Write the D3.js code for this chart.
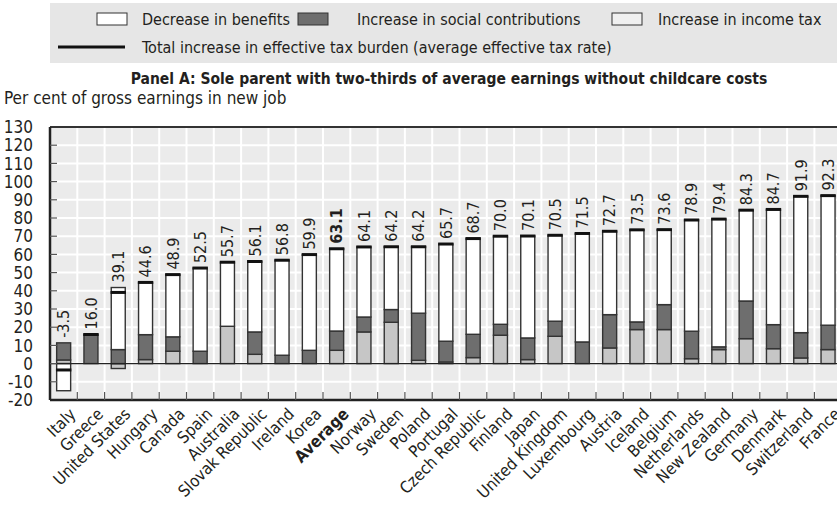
<!DOCTYPE html>
<html>
<head>
<meta charset="utf-8">
<script src="https://cdn.jsdelivr.net/npm/d3@7"></script>
<style>
  body { margin: 0; background: #fff; }
  text { font-family: "DejaVu Sans Condensed", "DejaVu Sans", sans-serif; font-stretch: condensed; fill: #231f20; }
</style>
</head>
<body>
<div id="chart"></div>
<script>
  // values (per cent of gross earnings in new job)
  var countries = ["Italy", "Greece", "United States", "Hungary", "Canada", "Spain", "Australia",
    "Slovak Republic", "Ireland", "Korea", "Average", "Norway", "Sweden", "Poland", "Portugal",
    "Czech Republic", "Finland", "Japan", "United Kingdom", "Luxembourg", "Austria", "Iceland",
    "Belgium", "Netherlands", "New Zealand", "Germany", "Denmark", "Switzerland", "France"];
  var incomeTax = [2.0, 0, -2.7, 2.2, 6.8, 0, 20.5, 5.1, 0, 0, 7.3, 17.4, 22.7, 1.8, 0.9,
    3.3, 15.6, 2.2, 15.0, 0, 8.6, 18.7, 18.7, 2.7, 7.7, 13.7, 8.2, 3.1, 7.7];
  var socialContrib = [9.4, 16.0, 7.7, 13.7, 7.9, 6.8, 0, 12.3, 4.6, 7.3, 10.6, 8.2, 7.0, 25.9, 11.4,
    12.8, 6.0, 11.9, 8.3, 11.9, 18.3, 4.2, 13.7, 15.1, 1.5, 20.7, 13.2, 13.9, 13.4];
  var totals = [-3.5, 16.0, 39.1, 44.6, 48.9, 52.5, 55.7, 56.1, 56.8, 59.9, 63.1, 64.1, 64.2, 64.2, 65.7,
    68.7, 70.0, 70.1, 70.5, 71.5, 72.7, 73.5, 73.6, 78.9, 79.4, 84.3, 84.7, 91.9, 92.3];
  var benefits = [-14.9, 0, 34.1, 28.7, 34.2, 45.7, 35.2, 38.7, 52.2, 52.6, 45.2, 38.5, 34.5, 36.5, 53.4,
    52.6, 48.4, 56.0, 47.2, 59.6, 45.8, 50.6, 41.2, 61.1, 70.2, 49.9, 63.3, 74.9, 71.2];
  var yTicks = [-20, -10, 0, 10, 20, 30, 40, 50, 60, 70, 80, 90, 100, 110, 120, 130];

  var width = 837, height = 506;
  var plotLeft = 50, plotTop = 127, plotBottom = 400;
  var step = 27.3;

  var svg = d3.select("#chart").append("svg")
    .attr("width", width).attr("height", height);

  var rows = countries.map(function (c, i) {
    return { name: c, tax: incomeTax[i], sc: socialContrib[i], ben: benefits[i], total: totals[i] };
  });

  var x = d3.scaleBand().domain(countries).range([plotLeft, plotLeft + step * countries.length]).padding(0);
  var y = d3.scaleLinear().domain([-20, 130]).range([plotBottom, plotTop]);

  var keys = ["tax", "sc", "ben"];
  var colours = { tax: "#c6c6c6", sc: "#6e6e6e", ben: "#ffffff" };
  var series = d3.stack().keys(keys).offset(d3.stackOffsetDiverging)(rows);

  // legend
  var lg = svg.append("g");
  lg.append("rect").attr("x", 50).attr("y", 3).attr("width", 787).attr("height", 60).attr("fill", "#e6e6e6");
  var legendItems = [
    { key: "ben", label: "Decrease in benefits", sx: 97, tx: 142 },
    { key: "sc", label: "Increase in social contributions", sx: 298, tx: 357 },
    { key: "tax", label: "Increase in income tax", sx: 612, tx: 658 }
  ];
  legendItems.forEach(function (d) {
    lg.append("rect").attr("x", d.sx).attr("y", 13).attr("width", 30).attr("height", 12)
      .attr("fill", d.key == "tax" ? "#f0f0f0" : colours[d.key]).attr("stroke", "#333").attr("stroke-width", 1);
    lg.append("text").attr("x", d.tx).attr("y", 25).attr("font-size", "16px").text(d.label);
  });
  lg.append("line").attr("x1", 58).attr("x2", 125).attr("y1", 47).attr("y2", 47)
    .attr("stroke", "#111").attr("stroke-width", 3);
  lg.append("text").attr("x", 142).attr("y", 53).attr("font-size", "16px")
    .text("Total increase in effective tax burden (average effective tax rate)");

  svg.append("text").attr("x", 449).attr("y", 84).attr("text-anchor", "middle")
    .attr("font-size", "15.5px").attr("font-weight", "bold")
    .text("Panel A: Sole parent with two-thirds of average earnings without childcare costs");
  svg.append("text").attr("x", 4).attr("y", 104).attr("font-size", "17px")
    .text("Per cent of gross earnings in new job");

  // plot background and grid
  var g = svg.append("g");
  g.append("rect").attr("x", plotLeft).attr("y", plotTop).attr("width", width - plotLeft).attr("height", plotBottom - plotTop)
    .attr("fill", "#ebebeb");
  g.selectAll(".hg").data(yTicks.filter(function (t) { return t > -20 && t < 130; })).enter()
    .append("line")
    .attr("x1", plotLeft).attr("x2", width)
    .attr("y1", function (d) { return y(d); }).attr("y2", function (d) { return y(d); })
    .attr("stroke", "#fff").attr("stroke-width", 2);
  g.selectAll(".vg").data(countries.slice(1)).enter()
    .append("line")
    .attr("x1", function (d) { return x(d); }).attr("x2", function (d) { return x(d); })
    .attr("y1", plotTop).attr("y2", plotBottom)
    .attr("stroke", "#fff").attr("stroke-width", 2);

  // bars
  var bw = 14;
  series.forEach(function (s) {
    g.selectAll(".b-" + s.key).data(s.filter(function (d) { return d[1] != d[0]; })).enter()
      .append("rect")
      .attr("x", function (d) { return x(d.data.name) + x.bandwidth() / 2 - bw / 2; })
      .attr("y", function (d) { return y(Math.max(d[0], d[1])); })
      .attr("width", bw)
      .attr("height", function (d) { return Math.abs(y(d[0]) - y(d[1])); })
      .attr("fill", colours[s.key])
      .attr("stroke", "#333").attr("stroke-width", 1.4);
  });

  // total line
  g.selectAll(".tot").data(rows).enter()
    .append("line")
    .attr("x1", function (d) { return x(d.name) + x.bandwidth() / 2 - bw / 2 - 0.7; })
    .attr("x2", function (d) { return x(d.name) + x.bandwidth() / 2 + bw / 2 + 0.7; })
    .attr("y1", function (d) { return y(d.total); }).attr("y2", function (d) { return y(d.total); })
    .attr("stroke", "#111").attr("stroke-width", 3);

  // zero line
  g.append("line").attr("x1", plotLeft).attr("x2", width).attr("y1", y(0)).attr("y2", y(0))
    .attr("stroke", "#222").attr("stroke-width", 1.2);

  // value labels
  g.selectAll(".val").data(rows).enter()
    .append("text")
    .attr("transform", function (d) {
      var topv = Math.max(0, d.tax) + Math.max(0, d.sc) + Math.max(0, d.ben);
      return "translate(" + (x(d.name) + x.bandwidth() / 2) + "," + (y(topv) - 5) + ") rotate(-90)";
    })
    .attr("dy", "0.36em")
    .attr("font-size", "16px")
    .attr("font-weight", function (d) { return d.name == "Average" ? "bold" : "normal"; })
    .text(function (d) { return d.total.toFixed(1); });

  // axes frame
  g.append("line").attr("x1", plotLeft).attr("x2", width).attr("y1", plotTop).attr("y2", plotTop)
    .attr("stroke", "#333").attr("stroke-width", 2);
  g.append("line").attr("x1", plotLeft).attr("x2", width).attr("y1", plotBottom).attr("y2", plotBottom)
    .attr("stroke", "#222").attr("stroke-width", 2.5);
  g.append("line").attr("x1", plotLeft).attr("x2", plotLeft).attr("y1", plotTop).attr("y2", plotBottom)
    .attr("stroke", "#222").attr("stroke-width", 2.5);

  // y axis ticks and labels
  g.selectAll(".yt").data(yTicks.filter(function (t) { return t > -20 && t < 130; })).enter()
    .append("line")
    .attr("x1", plotLeft).attr("x2", plotLeft + 7)
    .attr("y1", function (d) { return y(d); }).attr("y2", function (d) { return y(d); })
    .attr("stroke", "#555").attr("stroke-width", 1.2);
  g.selectAll(".yl").data(yTicks).enter()
    .append("text")
    .attr("x", 33).attr("y", function (d) { return y(d); })
    .attr("dy", "0.36em").attr("text-anchor", "end").attr("font-size", "17px")
    .text(function (d) { return d; });

  // x axis ticks and labels
  g.selectAll(".xt").data(countries.slice(1)).enter()
    .append("line")
    .attr("x1", function (d) { return x(d); }).attr("x2", function (d) { return x(d); })
    .attr("y1", plotBottom - 8).attr("y2", plotBottom)
    .attr("stroke", "#555").attr("stroke-width", 1.2);
  g.selectAll(".xl").data(countries).enter()
    .append("text")
    .attr("transform", function (d) {
      return "translate(" + (x(d) + x.bandwidth() / 2 + 5) + "," + (plotBottom + 7) + ") rotate(-45)";
    })
    .attr("text-anchor", "end").attr("dy", "0.7em").attr("font-size", "16.5px")
    .attr("font-weight", function (d) { return d == "Average" ? "bold" : "normal"; })
    .text(function (d) { return d; });
</script>
</body>
</html>
